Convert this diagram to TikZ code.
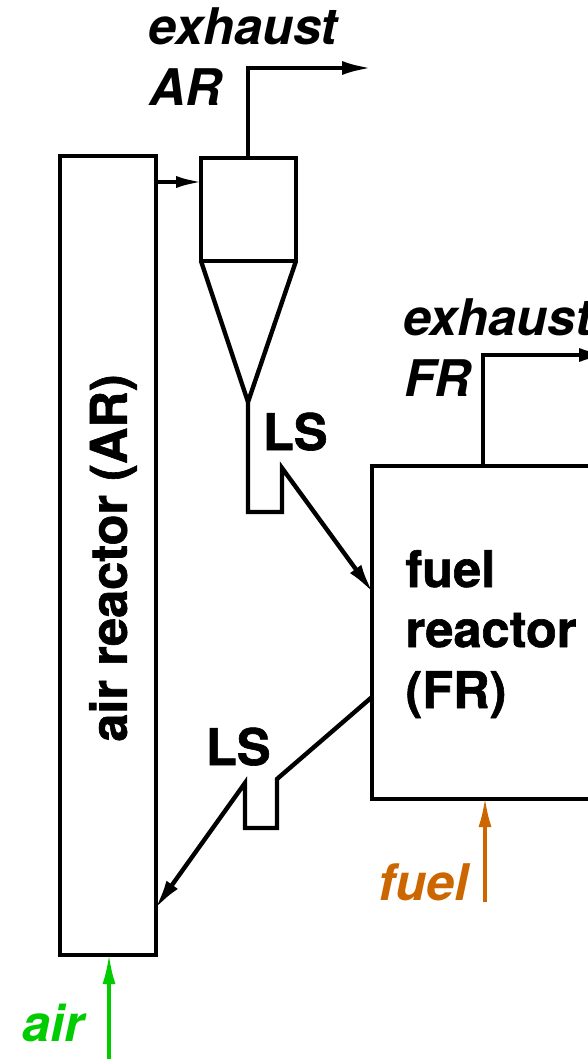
\documentclass[tikz,border=0pt]{standalone}
\usepackage{fontspec}
\setmainfont{TeX Gyre Heros}[BoldFeatures={FakeBold=1.2}]
\usetikzlibrary{arrows.meta}
\tikzset{
  x=1pt,y=-1pt,
  unit/.style={draw=black,line width=4.4pt,minimum width=0pt,minimum height=0pt,inner sep=0pt,outer sep=0pt,anchor=north west},
  pipe/.style={draw=black,line width=4.4pt,line join=miter},
  flow/.style={line width=4.4pt,shorten >=-4pt,-{Latex[length=30pt,width=14pt]}},
  feed/.style={line width=3.6pt,shorten >=-4pt,-{Latex[length=30pt,width=13pt]}},
  lab/.style={font=\fontsize{50.5}{50.5}\selectfont\bfseries,anchor=base west,inner sep=0pt,outer sep=0pt},
  ilab/.style={lab,font=\fontsize{50.5}{50.5}\selectfont\bfseries\itshape},
}
\definecolor{airgreen}{RGB}{0,204,0}
\definecolor{fuelorange}{RGB}{204,102,0}
\begin{document}
\begin{tikzpicture}
\useasboundingbox (0,0) rectangle (588,1059);
\clip (0,0) rectangle (588,1059);
% units
\node[unit,minimum width=96pt,minimum height=799pt] (AR) at (60,156) {};
\node[unit,minimum width=95pt,minimum height=103pt] (CY) at (201,158) {};
\node[unit,minimum width=260pt,minimum height=333pt] (FR) at (372,466) {};
\node[rotate=90,font=\fontsize{50.5}{50.5}\selectfont\bfseries,inner sep=0pt] (ARt) at (113,558) {air reactor (AR)};
% named points
\coordinate (apex) at (248,402);
\coordinate (ls1a) at (248,512);
\coordinate (ls1b) at (282,512);
\coordinate (ls1c) at (282,468);
\coordinate (in1) at (371,590);
\coordinate (o1) at (372,697);
\coordinate (ls2a) at (277,779);
\coordinate (ls2b) at (277,828);
\coordinate (ls2c) at (245,828);
\coordinate (ls2d) at (245,783);
\coordinate (in2) at (157,906);
\coordinate (ex1a) at (248,158);
\coordinate (ex1b) at (248,68);
\coordinate (ex1c) at (368,68);
\coordinate (ex2a) at (483,466);
\coordinate (ex2b) at (483,355);
\coordinate (ex2c) at (605,355);
\coordinate (riserout) at (156,182);
\coordinate (cyin) at (200,182);
\coordinate (airs) at (109,1062);
\coordinate (aire) at (109,958);
\coordinate (fuels) at (485,902);
\coordinate (fuele) at (485,801);
% cone and standpipe
\draw[pipe] (CY.south west) -- (apex) -- (CY.south east);
\draw[pipe,flow] (apex) -- (ls1a) -- (ls1b) -- (ls1c) -- (in1);
\draw[pipe,flow] (o1) -- (ls2a) -- (ls2b) -- (ls2c) -- (ls2d) -- (in2);
\draw[pipe,flow] (ex1a) -- (ex1b) -- (ex1c);
\draw[pipe,flow] (ex2a) -- (ex2b) -- (ex2c);
\draw[flow,shorten >=-4pt,-{Latex[length=28pt,width=12pt]}] (riserout) -- (cyin);
\draw[feed,airgreen] (airs) -- (aire);
\draw[feed,fuelorange] (fuels) -- (fuele);
% labels
\node[ilab] (t1) at (148.5,45) {exhaust};
\node[ilab] (t2) at (149,106) {AR};
\node[ilab] (t3) at (403,335) {exhaust};
\node[ilab] (t4) at (404,396) {FR};
\node[lab] (ls1) at (263,450) {LS};
\node[lab] (ls2) at (206,765) {LS};
\node[lab] (f1) at (405.5,587) {fuel};
\node[lab] (f2) at (405.5,647) {reactor};
\node[lab] (f3) at (405.5,708) {(FR)};
\node[ilab,text=fuelorange] (fuel) at (378.5,900) {fuel};
\node[ilab,text=airgreen] (air) at (22.5,1041) {air};
\end{tikzpicture}
\end{document}
